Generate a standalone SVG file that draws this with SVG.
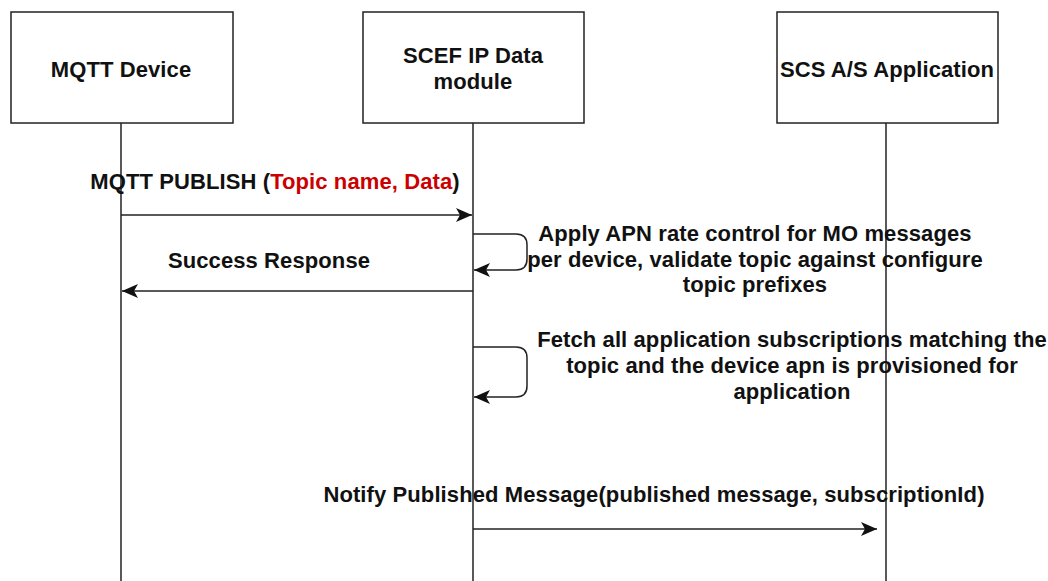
<svg xmlns="http://www.w3.org/2000/svg" width="1048" height="581" viewBox="0 0 1048 581">
<style>
text{font-family:"Liberation Sans",Arial,sans-serif;font-weight:bold;font-size:22px;letter-spacing:0.1px;fill:#111;text-anchor:middle}
.box{fill:#fff;stroke:#222;stroke-width:1.5}
.life{stroke:#222;stroke-width:1.5;fill:none}
.msg{stroke:#222;stroke-width:1.5;fill:none;marker-end:url(#arr)}
.red{fill:#cc0000}
</style>
<defs>
<marker id="arr" viewBox="0 0 16 14" refX="16" refY="7" markerWidth="16" markerHeight="14" markerUnits="userSpaceOnUse" orient="auto">
<path d="M0,0 L16,7 L0,14 L4,7 Z" fill="#111"/>
</marker>
</defs>
<rect width="1048" height="581" fill="#fff"/>
<g id="lifelines">
<line class="life" x1="121" y1="123" x2="121" y2="581"/>
<line class="life" x1="473" y1="123" x2="473" y2="581"/>
<line class="life" x1="886" y1="123" x2="886" y2="581"/>
</g>
<g id="mqtt-device">
<rect class="box" x="11" y="12" width="222" height="111"/>
<text x="121" y="77">MQTT Device</text>
</g>
<g id="scef">
<rect class="box" x="363" y="12" width="221" height="111"/>
<text x="473" y="63">SCEF IP Data</text>
<text x="473" y="89">module</text>
</g>
<g id="scs">
<rect class="box" x="777" y="12" width="221" height="111"/>
<text x="887" y="77">SCS A/S Application</text>
</g>
<g id="connectors">
<path class="msg" d="M121,215 H472"/>
<path class="msg" d="M473,291 H122"/>
<path class="msg" d="M473,234 H516 Q527,234 527,245 V259 Q527,270 516,270 H474"/>
<path class="msg" d="M473,347 H516 Q527,347 527,358 V386 Q527,397 516,397 H474"/>
<path class="msg" d="M473,529 H877"/>
</g>
<g id="labels">
<text x="275" y="189">MQTT PUBLISH (<tspan class="red">Topic name, Data</tspan>)</text>
<text x="269" y="268">Success Response</text>
<text x="755" y="241">Apply APN rate control for MO messages</text>
<text x="755" y="267">per device, validate topic against configure</text>
<text x="755" y="292">topic prefixes</text>
<text x="792" y="347">Fetch all application subscriptions matching the</text>
<text x="792" y="373">topic and the device apn is provisioned for</text>
<text x="792" y="399">application</text>
<text x="654" y="502">Notify Published Message(published message, subscriptionId)</text>
</g>
</svg>
